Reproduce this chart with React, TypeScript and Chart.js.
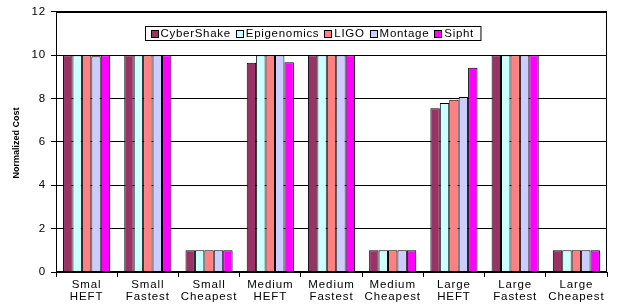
import React, { useEffect, useRef } from "react";
import { Chart, registerables } from "chart.js";

Chart.register(...registerables);

const categories: string[][] = [
  ["Smal", "HEFT"],
  ["Small", "Fastest"],
  ["Small", "Cheapest"],
  ["Medium", "HEFT"],
  ["Medium", "Fastest"],
  ["Medium", "Cheapest"],
  ["Large", "HEFT"],
  ["Large", "Fastest"],
  ["Large", "Cheapest"],
];

const seriesNames = ["CyberShake", "Epigenomics", "LIGO", "Montage", "Sipht"];
const seriesColors = ["#993366", "#CCFFFF", "#FF8080", "#CCCCFF", "#FF00FF"];

const cyberShake = [10, 10, 1, 9.65, 10, 1, 7.55, 10, 1];
const epigenomics = [10, 10, 1, 10, 10, 1, 7.8, 10, 1];
const ligo = [10, 10, 1, 10, 10, 1, 7.95, 10, 1];
const montage = [9.95, 10, 1, 10, 10, 1, 8.07, 10, 1];
const sipht = [10, 10, 1, 9.68, 10, 1, 9.42, 10, 1];

const seriesValues = [cyberShake, epigenomics, ligo, montage, sipht];

const yTicks = [0, 2, 4, 6, 8, 10, 12];
const yTitle = "Normalized Cost";

const FONT = "'Liberation Sans', Arial, sans-serif";
const SPACING = "0.9px";

const spacingPlugin = {
  id: "spacing",
  beforeUpdate(chart: any) {
    chart.ctx.letterSpacing = SPACING;
  },
  beforeLayout(chart: any) {
    chart.ctx.letterSpacing = SPACING;
  },
  beforeDraw(chart: any) {
    chart.ctx.letterSpacing = SPACING;
  },
};

const frameAndLegend = {
  id: "frameAndLegend",
  afterDraw(chart: any) {
    const { ctx, chartArea } = chart;
    ctx.save();
    // y title
    ctx.letterSpacing = "0px";
    ctx.font = `bold 9px ${FONT}`;
    ctx.fillStyle = "#000";
    ctx.textAlign = "center";
    ctx.textBaseline = "middle";
    ctx.translate(17, (chartArea.top + chartArea.bottom) / 2 + 1);
    ctx.rotate(-Math.PI / 2);
    ctx.fillText(yTitle, 0, 0);
    ctx.restore();
  },
  afterDatasetsDraw(chart: any) {
    const { ctx, chartArea } = chart;
    ctx.save();
    ctx.letterSpacing = "0.7px";
    // plot frame
    ctx.strokeStyle = "#000";
    ctx.lineWidth = 1;
    ctx.strokeRect(
      Math.round(chartArea.left) + 0.5,
      Math.round(chartArea.top) + 0.5,
      Math.round(chartArea.right - chartArea.left) - 1,
      Math.round(chartArea.bottom - chartArea.top) - 1
    );
    // legend
    ctx.font = `11.5px ${FONT}`;
    const sw = 7;
    const gapA = 3;
    const gapB = 5;
    let totalW = 6;
    const widths = seriesNames.map((n) => ctx.measureText(n).width);
    widths.forEach((w) => (totalW += sw + gapA + w + gapB));
    totalW += 1;
    const lx = Math.round(chartArea.left + 89) + 0.5;
    const ly = Math.round(chartArea.top + 14) + 0.5;
    const lh = 14;
    ctx.fillStyle = "#fff";
    ctx.fillRect(lx, ly, totalW, lh);
    ctx.strokeStyle = "#000";
    ctx.strokeRect(lx, ly, totalW, lh);
    let x = lx + 5;
    ctx.textBaseline = "middle";
    seriesNames.forEach((n, i) => {
      const sy = Math.round(ly + lh / 2 - sw / 2);
      ctx.fillStyle = seriesColors[i];
      ctx.fillRect(Math.round(x) + 0.5, sy + 0.5, sw, sw);
      ctx.strokeStyle = "#000";
      ctx.strokeRect(Math.round(x) + 0.5, sy + 0.5, sw, sw);
      x += sw + gapA;
      ctx.fillStyle = "#000";
      ctx.fillText(n, x, ly + lh / 2 + 0.5);
      x += widths[i] + gapB;
    });
    ctx.restore();
  },
};

export default function App() {
  const ref = useRef<HTMLCanvasElement>(null);
  useEffect(() => {
    if (!ref.current) return;
    const chart = new Chart(ref.current, {
      type: "bar",
      data: {
        labels: categories,
        datasets: seriesNames.map((name, i) => ({
          label: name,
          data: seriesValues[i],
          backgroundColor: seriesColors[i],
          borderColor: "#000",
          borderWidth: 1,
          barPercentage: 1,
          categoryPercentage: 0.77,
        })),
      },
      options: {
        responsive: false,
        animation: false,
        layout: { padding: { left: 0, right: 10, top: 9, bottom: 0 } },
        plugins: {
          legend: { display: false },
          tooltip: { enabled: false },
        },
        scales: {
          x: {
            grid: {
              display: true,
              offset: true,
              drawOnChartArea: false,
              drawTicks: true,
              tickLength: 5,
              color: "#000",
            },
            border: { display: true, color: "#000" },
            ticks: {
              color: "#000",
              font: { family: FONT, size: 11.5, lineHeight: 1.02 },
              padding: 2,
              maxRotation: 0,
              autoSkip: false,
            },
            afterFit(scale: any) {
              scale.height = 32;
            },
          },
          y: {
            min: 0,
            max: 12,
            afterBuildTicks(scale: any) {
              scale.ticks = yTicks.map((v) => ({ value: v }));
            },
            grid: {
              color: "#000",
              tickLength: 5,
              drawTicks: true,
            },
            border: { display: true, color: "#000" },
            ticks: {
              color: "#000",
              font: { family: FONT, size: 11.5 },
              padding: 5,
            },
            afterFit(scale: any) {
              scale.width = 56;
            },
          },
        },
      },
      plugins: [spacingPlugin, frameAndLegend],
    });
    return () => chart.destroy();
  }, []);
  return (
    <div style={{ position: "absolute", left: 0, top: 0, width: 617, height: 304, background: "#fff" }}>
      <canvas ref={ref} width={617} height={304} />
    </div>
  );
}
